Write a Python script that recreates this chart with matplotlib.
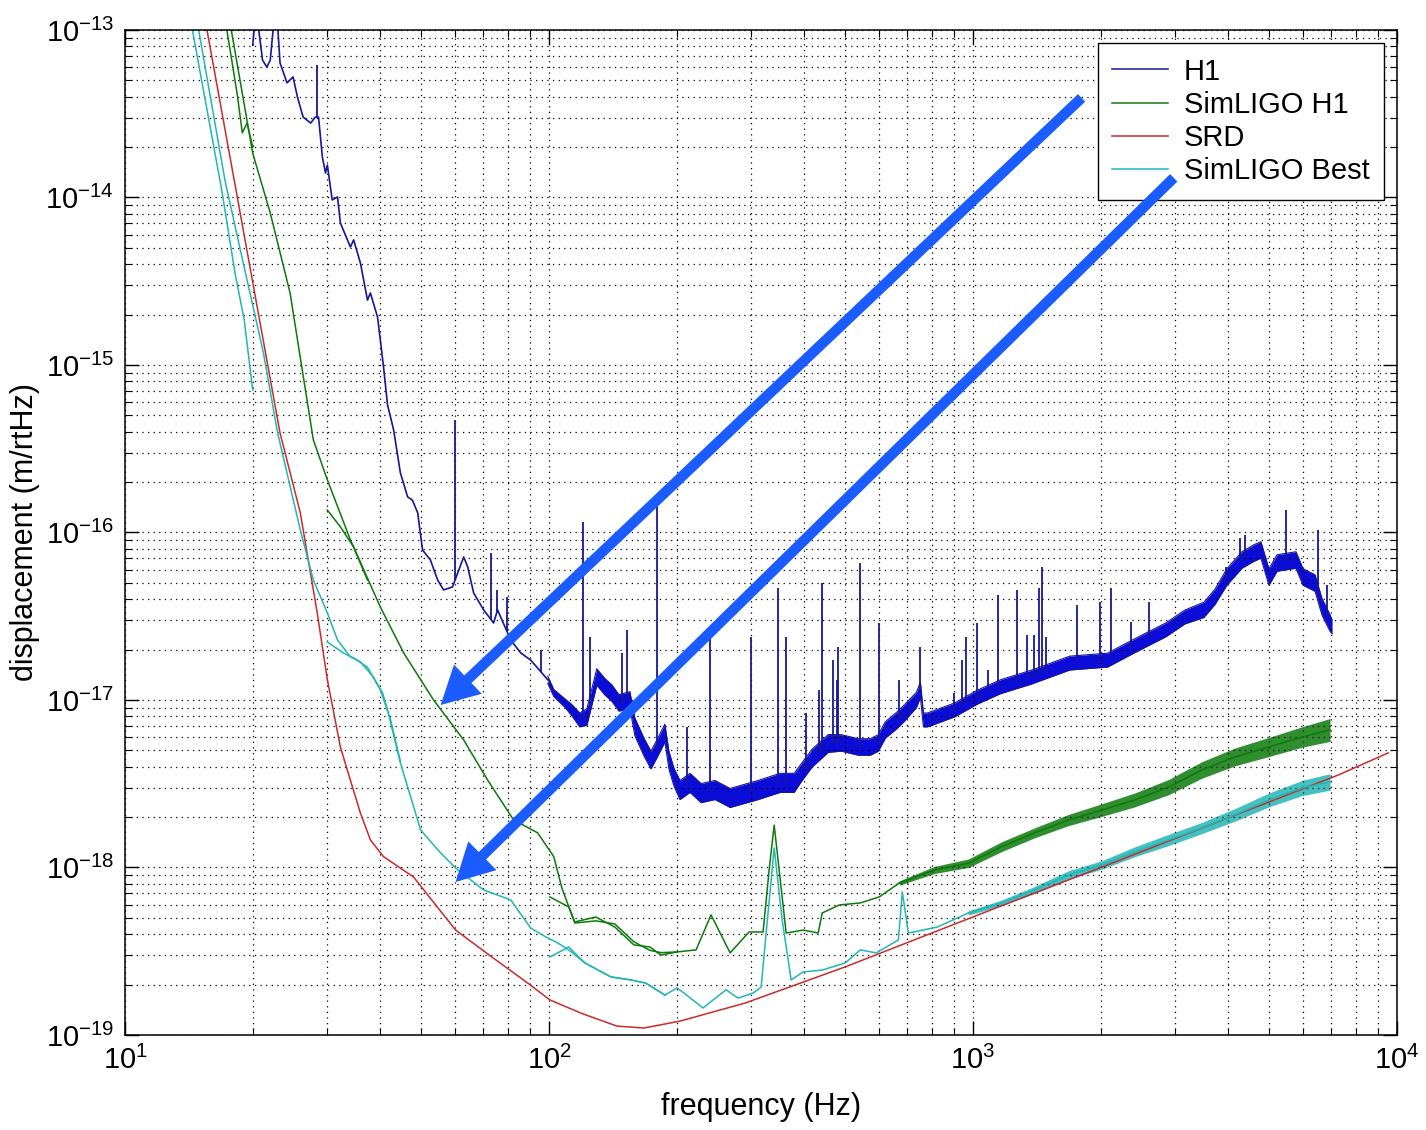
import numpy as np
import matplotlib
matplotlib.use("Agg")
import matplotlib.pyplot as plt
from matplotlib.lines import Line2D
from matplotlib.ticker import LogLocator, NullFormatter, FixedLocator

plt.rcParams['font.family'] = ['Liberation Sans', 'DejaVu Sans']
plt.rcParams['mathtext.fontset'] = 'custom'
plt.rcParams['mathtext.rm'] = 'Liberation Sans'
plt.rcParams['mathtext.it'] = 'Liberation Sans:italic'
plt.rcParams['mathtext.bf'] = 'Liberation Sans:bold'

#---------DATA (Hz, m/rtHz)----------

# H1 measured displacement, low band (thin trace)
h1_low_freq = [20.0, 20.2, 20.6, 21.1, 21.6, 22.0, 22.4, 22.9, 23.2, 24.1, 24.9, 25.5, 26.3,
               27.4, 28.1, 28.6, 29.2, 29.7, 30.0, 30.8, 31.7, 32.2, 34.0, 34.6, 35.9, 37.3,
               37.9, 39.4, 40.0, 40.7, 41.6, 43.0, 44.6, 46.4, 47.6, 49.0, 50.3, 52.5, 54.6,
               56.4, 59.2, 60.9, 62.9, 64.3, 66.4, 70.1, 74.0, 75.6, 81.2, 85.7, 90.5, 99.3]
h1_low_amp = [8.1e-14, 1.07e-13, 1.07e-13, 6.6e-14, 6.0e-14, 6.6e-14, 1.07e-13, 1.07e-13,
              6.35e-14, 4.83e-14, 5.24e-14, 3.98e-14, 3.02e-14, 2.78e-14, 3.02e-14, 3.02e-14,
              1.74e-14, 1.40e-14, 1.56e-14, 9.66e-15, 1.007e-14, 7.04e-15, 5.06e-15, 5.58e-15,
              4.06e-15, 2.44e-15, 2.69e-15, 1.93e-15, 1.41e-15, 9.73e-16, 5.77e-16, 4.09e-16,
              2.27e-16, 1.63e-16, 1.56e-16, 1.31e-16, 7.86e-17, 6.85e-17, 5.20e-17, 4.54e-17,
              4.73e-17, 5.73e-17, 7.14e-17, 6.22e-17, 4.35e-17, 3.45e-17, 2.88e-17, 3.45e-17,
              2.28e-17, 1.91e-17, 1.73e-17, 1.32e-17]

# H1 above 100 Hz: centre of the noisy band and its half-spread (ratio)
h1_high_freq = [99.3, 102.6, 108.9, 113.1, 118.1, 122.8, 129.6, 135.4, 140.6, 146.2, 155.1,
                159.4, 167.4, 173.9, 180.6, 187.6, 191.7, 197.0, 203.6, 215.0, 228.3, 246.3,
                267.3, 311.2, 350.8, 378.5, 393.1, 417.4, 455.4, 488.9, 536.1, 572.3, 597.7,
                621.0, 662.9, 688.7, 735.2, 751.3, 763.7, 780.5, 903.8, 1024, 1161, 1374, 1690,
                2077, 2304, 2555, 2848, 3159, 3502, 3718, 3968, 4307, 4597, 4775, 4987, 5212,
                5776, 6000, 6406, 6654, 6950, 7026]
h1_high_amp = [1.32e-17, 1.10e-17, 9.60e-18, 8.71e-18, 7.60e-18, 7.91e-18, 1.37e-17, 1.20e-17,
               1.10e-17, 9.60e-18, 1.00e-17, 6.90e-18, 5.24e-18, 4.38e-18, 5.24e-18, 6.35e-18,
               4.38e-18, 3.47e-18, 2.90e-18, 3.20e-18, 2.78e-18, 2.90e-18, 2.60e-18, 2.90e-18,
               3.20e-18, 3.20e-18, 3.67e-18, 4.5e-18, 5.5e-18, 5.54e-18, 5.24e-18, 5.24e-18,
               5.54e-18, 6.62e-18, 7.60e-18, 8.36e-18, 1.00e-17, 1.15e-17, 7.60e-18, 7.60e-18,
               8.71e-18, 1.04e-17, 1.20e-17, 1.37e-17, 1.66e-17, 1.73e-17, 1.99e-17, 2.28e-17,
               2.62e-17, 3.13e-17, 3.45e-17, 4.12e-17, 5.42e-17, 6.85e-17, 7.54e-17, 7.86e-17,
               5.42e-17, 6.57e-17, 6.85e-17, 5.42e-17, 4.99e-17, 3.59e-17, 2.88e-17, 2.73e-17]
h1_high_spread = [1.05, 1.05, 1.06, 1.08, 1.10, 1.12, 1.12, 1.12, 1.12, 1.12, 1.12, 1.13, 1.13,
                  1.13, 1.13, 1.13, 1.13, 1.13, 1.14, 1.14, 1.14, 1.14, 1.14, 1.14, 1.14, 1.14,
                  1.13, 1.13, 1.13, 1.12, 1.12, 1.12, 1.12, 1.12, 1.12, 1.12, 1.11, 1.11, 1.10,
                  1.10, 1.10, 1.10, 1.10, 1.10, 1.10, 1.10, 1.10, 1.10, 1.10, 1.10, 1.11, 1.11,
                  1.12, 1.12, 1.12, 1.12, 1.12, 1.12, 1.12, 1.12, 1.12, 1.12, 1.12, 1.10]

# narrow lines sticking out of the H1 spectrum (frequency, peak)
h1_line_freq = [28.4, 60.0, 72.8, 75.2, 79.4, 95.6, 120.0, 124.8, 148.5, 152.6, 180.0, 211.5,
                239.7, 300.0, 347.0, 362.4, 404.0, 433.6, 440.8, 468.0, 478.3, 480.9, 542.0,
                601.0, 670.0, 751.3, 903.8, 944.1, 964.7, 1024, 1087, 1142, 1267, 1337, 1389,
                1427, 1451, 1483, 1755, 1989, 2111, 2354, 2597, 3947, 4261, 4378, 5470, 6511, 6837]
h1_line_peak = [6.2e-14, 4.69e-16, 7.54e-17, 4.54e-17, 4.12e-17, 1.99e-17, 1.16e-16, 2.38e-17,
                1.91e-17, 2.62e-17, 1.50e-16, 6.90e-18, 2.34e-17, 2.38e-17, 4.66e-17, 2.38e-17,
                8.36e-18, 1.15e-17, 4.99e-17, 1.73e-17, 1.32e-17, 2.07e-17, 6.57e-17, 2.88e-17,
                1.32e-17, 2.07e-17, 1.10e-17, 1.73e-17, 2.38e-17, 2.88e-17, 1.51e-17, 4.23e-17,
                4.54e-17, 2.44e-17, 2.44e-17, 4.66e-17, 6.22e-17, 2.38e-17, 3.69e-17, 3.85e-17,
                4.66e-17, 2.92e-17, 3.85e-17, 6.22e-17, 9.27e-17, 9.66e-17, 1.36e-16, 1.035e-16,
                4.86e-17]

# SimLIGO H1 (pieces from the separate frequency bands)
sim_lo_freq = [17.2, 18.4, 18.9, 19.4, 20.0]
sim_lo_amp = [1.18e-13, 4.09e-14, 2.43e-14, 2.78e-14, 2.0e-14]

sim_main_freq = [17.6, 20.0, 22.0, 24.5, 27.8, 30.0, 34.0, 40.0, 45.4, 53.4, 62.9, 71.6, 82.5,
                 94.0, 102.6, 107.2, 115.0, 128.9, 142.9, 158.5, 173.0, 183.6, 200.3]
sim_main_amp = [1.18e-13, 1.84e-14, 8.08e-15, 2.69e-15, 3.57e-16, 2.06e-16, 9.02e-17, 3.59e-17,
                1.91e-17, 1.0e-17, 5.77e-18, 3.33e-18, 1.92e-18, 1.61e-18, 1.16e-18, 7.54e-19,
                4.66e-19, 4.80e-19, 4.60e-19, 3.60e-19, 3.20e-19, 3.10e-19, 3.13e-19]

sim_30_freq = [30.0, 32.2, 34.6, 37.3]
sim_30_amp = [1.36e-16, 1.08e-16, 8.19e-17, 5.20e-17]

sim_hi_freq = [100.4, 111.3, 115.0, 128.9, 142.9, 158.5, 173.0, 183.6, 200.3, 222.2, 241.0,
               267.3, 296.3, 319.7, 330.4, 339.6, 348.9, 362.4, 397.6, 431.3, 440.8, 483.5,
               542.0, 601.0, 670.0]
sim_hi_amp = [6.67e-19, 5.81e-19, 4.73e-19, 5.06e-19, 4.41e-19, 3.45e-19, 3.35e-19, 3.0e-19,
              3.13e-19, 3.22e-19, 5.21e-19, 3.09e-19, 4.12e-19, 4.12e-19, 9.66e-19, 1.79e-18,
              9.66e-19, 4.06e-19, 4.23e-19, 4.06e-19, 5.35e-19, 5.97e-19, 6.14e-19, 6.67e-19,
              8.08e-19]

sim_tail_freq = [670.0, 810.8, 975.2, 1167, 1397, 1680, 2011, 2406, 2894, 3464, 4146, 4987,
                 5968, 6950]
sim_tail_amp = [8.08e-19, 9.66e-19, 1.06e-18, 1.33e-18, 1.61e-18, 1.92e-18, 2.20e-18, 2.53e-18,
                3.02e-18, 3.82e-18, 4.57e-18, 5.24e-18, 6.01e-18, 6.62e-18]
sim_tail_spread = [1.03, 1.05, 1.06, 1.07, 1.07, 1.08, 1.09, 1.10, 1.11, 1.12, 1.13, 1.14,
                   1.15, 1.17]

# SRD goal
srd_freq = [15.4, 23.2, 25.9, 28.4, 30.0, 32.2, 33.6, 35.9, 37.9, 40.7, 47.9, 60.2, 73.3, 89.1,
            100.4, 118.9, 144.5, 167.4, 203.6, 289.9, 499.6, 1148, 2022, 7261, 9530]
srd_amp = [1.2e-13, 3.93e-16, 1.31e-16, 3.30e-17, 1.32e-17, 5.24e-18, 3.66e-18, 2.11e-18,
           1.46e-18, 1.16e-18, 8.77e-19, 4.23e-19, 2.92e-19, 2.04e-19, 1.62e-19, 1.35e-19,
           1.13e-19, 1.10e-19, 1.21e-19, 1.55e-19, 2.55e-19, 5.81e-19, 1.01e-18, 3.56e-18, 4.83e-18]

# SimLIGO Best
best_lo_freq = [14.2, 16.9, 18.2, 19.1, 20.0]
best_lo_amp = [1.23e-13, 1.11e-14, 3.45e-15, 1.86e-15, 7.09e-16]

best_main_freq = [14.7, 17.2, 18.7, 21.2, 22.9, 25.9, 27.8, 30.0, 31.7, 34.0, 35.9, 38.5, 40.5,
                  41.6, 44.6, 49.8, 55.5, 60.9, 70.1, 81.2, 90.5, 98.2, 104.9, 111.3, 121.5,
                  140.0, 156.0, 169.2, 187.6]
best_main_amp = [1.23e-13, 1.27e-14, 4.86e-15, 1.18e-15, 3.93e-16, 1.035e-16, 5.20e-17, 3.31e-17,
                 2.28e-17, 1.81e-17, 1.69e-17, 1.37e-17, 1.10e-17, 8.71e-18, 4.21e-18, 1.67e-18,
                 1.22e-18, 9.66e-19, 7.34e-19, 6.40e-19, 4.35e-19, 3.85e-19, 3.54e-19, 3.22e-19,
                 2.69e-19, 2.22e-19, 2.13e-19, 2.04e-19, 1.73e-19]

best_30_freq = [30.0, 32.7, 34.6, 37.3, 40.0, 42.3, 44.6]
best_30_amp = [2.22e-17, 1.91e-17, 1.78e-17, 1.57e-17, 1.15e-17, 7.60e-18, 4.3e-18]

best_hi_freq = [100.4, 111.3, 121.5, 140.0, 156.0, 169.2, 187.6, 200.3, 208.0, 230.7, 261.5,
                279.1, 302.9, 316.3, 325.1, 339.6, 354.6, 372.4, 397.6, 440.8, 499.4, 542.0,
                591.3, 666.4, 681.0, 703.7, 824.1, 975.2]
best_hi_amp = [2.92e-19, 3.35e-19, 2.69e-19, 2.22e-19, 2.13e-19, 2.04e-19, 1.73e-19, 1.91e-19,
               1.78e-19, 1.45e-19, 1.86e-19, 1.66e-19, 1.78e-19, 1.93e-19, 4.06e-19, 1.31e-18,
               4.86e-19, 2.13e-19, 2.38e-19, 2.44e-19, 2.69e-19, 3.22e-19, 3.09e-19, 3.69e-19,
               7.14e-19, 4.06e-19, 4.41e-19, 5.35e-19]

best_tail_freq = [975.2, 1167, 1397, 1680, 2011, 2406, 2894, 3464, 4146, 4987, 5968, 6950]
best_tail_amp = [5.35e-19, 6.14e-19, 7.34e-19, 9.02e-19, 1.035e-18, 1.24e-18, 1.46e-18,
                 1.72e-18, 2.06e-18, 2.53e-18, 2.98e-18, 3.24e-18]
best_tail_spread = [1.03, 1.04, 1.05, 1.06, 1.06, 1.07, 1.08, 1.08, 1.09, 1.10, 1.11, 1.12]

# arrows drawn over the plot: (tail, head)
arrow_tails = [(1803, 3.93e-14), (2974, 1.31e-14)]
arrow_heads = [(55.5, 9.33e-18), (60.2, 8.19e-19)]

legend_labels = ["H1", "SimLIGO H1", "SRD", "SimLIGO Best"]

#---------PLOT----------
c_h1 = "#16169a"
c_h1_band = "#0c0cd8"
c_sim = "#0b7a0b"
c_srd = "#cc2a2a"
c_best = "#22b6b6"
c_arrow = "#1a5cff"

fig = plt.figure(figsize=(14.26, 11.30), dpi=100, facecolor="white")
ax = fig.add_axes([0.0877, 0.0841, 0.8920, 0.8894])

# H1
ax.plot(h1_low_freq, h1_low_amp, "-", color=c_h1, lw=1.2)
hha = np.array(h1_high_amp)
hhs = np.array(h1_high_spread)
ax.fill_between(h1_high_freq, hha / hhs, hha * hhs, color=c_h1_band, lw=0)
ax.plot(h1_high_freq, hha / hhs, "-", color=c_h1, lw=0.8)
ax.plot(h1_high_freq, hha * hhs, "-", color=c_h1, lw=0.8)
all_f = np.array(h1_low_freq[:-1] + h1_high_freq)
all_a = np.array(h1_low_amp[:-1] + h1_high_amp)
base = 10 ** np.interp(np.log10(h1_line_freq), np.log10(all_f), np.log10(all_a))
ax.vlines(h1_line_freq, base, h1_line_peak, color=c_h1, lw=1.3)

# SimLIGO H1
for f, a in ((sim_lo_freq, sim_lo_amp), (sim_main_freq, sim_main_amp),
             (sim_30_freq, sim_30_amp), (sim_hi_freq, sim_hi_amp),
             (sim_tail_freq, sim_tail_amp)):
    ax.plot(f, a, "-", color=c_sim, lw=1.1)
sta = np.array(sim_tail_amp)
sts = np.array(sim_tail_spread)
ax.fill_between(sim_tail_freq, sta / sts, sta * sts, color=c_sim, lw=0, alpha=0.85)

# SRD
ax.plot(srd_freq, srd_amp, "-", color=c_srd, lw=1.1)

# SimLIGO Best
for f, a in ((best_lo_freq, best_lo_amp), (best_main_freq, best_main_amp),
             (best_30_freq, best_30_amp), (best_hi_freq, best_hi_amp),
             (best_tail_freq, best_tail_amp)):
    ax.plot(f, a, "-", color=c_best, lw=1.1)
bta = np.array(best_tail_amp)
bts = np.array(best_tail_spread)
ax.fill_between(best_tail_freq, bta / bts, bta * bts, color=c_best, lw=0, alpha=0.85)

ax.set_xscale("log")
ax.set_yscale("log")
ax.set_xlim(10, 1e4)
ax.set_ylim(1e-19, 1e-13)

ax.xaxis.set_major_locator(FixedLocator([1e1, 1e2, 1e3, 1e4]))
ax.yaxis.set_major_locator(FixedLocator([1e-19, 1e-18, 1e-17, 1e-16, 1e-15, 1e-14, 1e-13]))
for axis in (ax.xaxis, ax.yaxis):
    axis.set_minor_locator(LogLocator(base=10, subs=np.arange(2, 10), numticks=100))
    axis.set_minor_formatter(NullFormatter())

ax.grid(True, which="both", linestyle=(0, (1, 3.5)), color="k", lw=0.9)
ax.tick_params(which="major", direction="in", length=10, width=1, top=True, right=True,
               labelsize=21, pad=8)
ax.tick_params(which="minor", direction="in", length=5, width=0.8, top=True, right=True)
for sp in ax.spines.values():
    sp.set_linewidth(1.1)

ax.set_xlabel("frequency (Hz)", fontsize=22, labelpad=12)
ax.set_ylabel("displacement (m/rtHz)", fontsize=22, labelpad=4)

handles = [Line2D([], [], color=c, lw=1.1) for c in (c_h1, c_sim, c_srd, c_best)]
leg = ax.legend(handles, legend_labels, loc="upper right", fontsize=21, fancybox=False,
                framealpha=1, edgecolor="k", borderaxespad=0.45, handlelength=1.9,
                handletextpad=0.55, labelspacing=0.18, borderpad=0.5)
leg.get_frame().set_linewidth(1.0)

for (xt, yt), (xh, yh) in zip(arrow_tails, arrow_heads):
    ax.annotate("", xy=(xh, yh), xytext=(xt, yt),
                arrowprops=dict(arrowstyle="simple,head_length=2.7,head_width=2.9,tail_width=0.75",
                                fc=c_arrow, ec="none", lw=0, shrinkA=0, shrinkB=0,
                                mutation_scale=10),
                zorder=10, annotation_clip=False)

fig.savefig("out.png", dpi=100, facecolor="white")
